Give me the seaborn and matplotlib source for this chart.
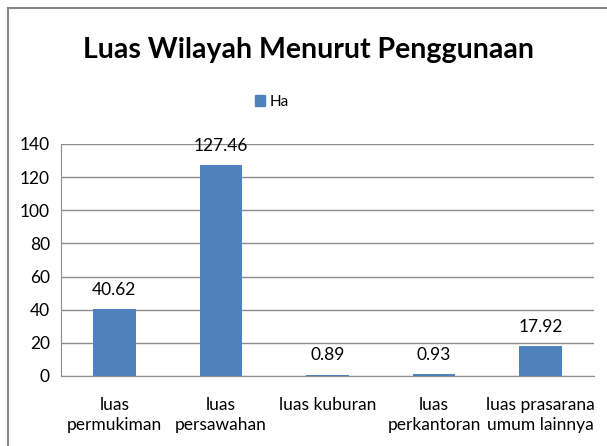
import matplotlib
matplotlib.use("Agg")
import matplotlib.pyplot as plt
import seaborn as sns
import pandas as pd
from matplotlib.patches import Rectangle, Patch

categories = ["luas\npermukiman", "luas\npersawahan", "luas kuburan",
              "luas\nperkantoran", "luas prasarana\numum lainnya"]
values = [40.62, 127.46, 0.89, 0.93, 17.92]
labels = ["40.62", "127.46", "0.89", "0.93", "17.92"]
series_name = "Ha"

df = pd.DataFrame({"kategori": categories, "nilai": values})

sns.set_style("white")
plt.rcParams['font.family'] = ['Lato', 'DejaVu Sans']
plt.rcParams['text.color'] = 'black'
plt.rcParams['xtick.color'] = 'black'
plt.rcParams['ytick.color'] = 'black'

bar_color = "#4F81BD"

fig = plt.figure(figsize=(6.07, 4.46), dpi=100)
ax = fig.add_axes([61 / 607, 70 / 446, 533 / 607, 232 / 446])

sns.barplot(data=df, x="kategori", y="nilai", color=bar_color, width=0.4,
            saturation=1, ax=ax, zorder=3, edgecolor="none")

ax.set_ylim(0, 140)
ax.set_xlim(-0.5, len(categories) - 0.5)
ax.set_yticks(range(0, 141, 20))
ax.yaxis.grid(True, color="#8c8c8c", linewidth=1)
ax.set_axisbelow(True)
for s in ["top", "right"]:
    ax.spines[s].set_visible(False)
ax.spines["left"].set_color("#8c8c8c")
ax.spines["bottom"].set_color("#8c8c8c")
ax.set_xlabel("")
ax.set_ylabel("")

# ticks at category boundaries
ax.set_xticks([i - 0.5 for i in range(len(categories) + 1)], minor=True)
ax.tick_params(axis="x", which="minor", length=5, color="#8c8c8c", width=1)
ax.tick_params(axis="x", which="major", length=0, pad=15, labelsize=12.5,
               labelcolor="black")
ax.tick_params(axis="y", length=4, color="#8c8c8c", labelsize=12.5, pad=4,
               labelcolor="black")
for lbl in ax.get_xticklabels():
    lbl.set_linespacing(1.35)

for i, (v, t) in enumerate(zip(values, labels)):
    ax.annotate(t, (i, v), xytext=(0, 8), textcoords="offset points",
                ha="center", va="bottom", fontsize=12.5, color="black")

fig.text(0.508, 0.887, "Luas Wilayah Menurut Penggunaan", ha="center",
         va="center", fontsize=20.5, fontweight="bold", color="black")

fig.legend(handles=[Patch(color=bar_color, label=series_name)],
           loc="center", bbox_to_anchor=(0.448, 0.772), frameon=False,
           fontsize=11, handlelength=0.7, handleheight=0.7, handletextpad=0.3)

fig.patches.append(Rectangle((8 / 607, -0.1), 1.2, (446 - 8) / 446 + 0.1,
                             transform=fig.transFigure, fill=False,
                             edgecolor="#868686", linewidth=1.5))

fig.savefig("out.png", dpi=100)
